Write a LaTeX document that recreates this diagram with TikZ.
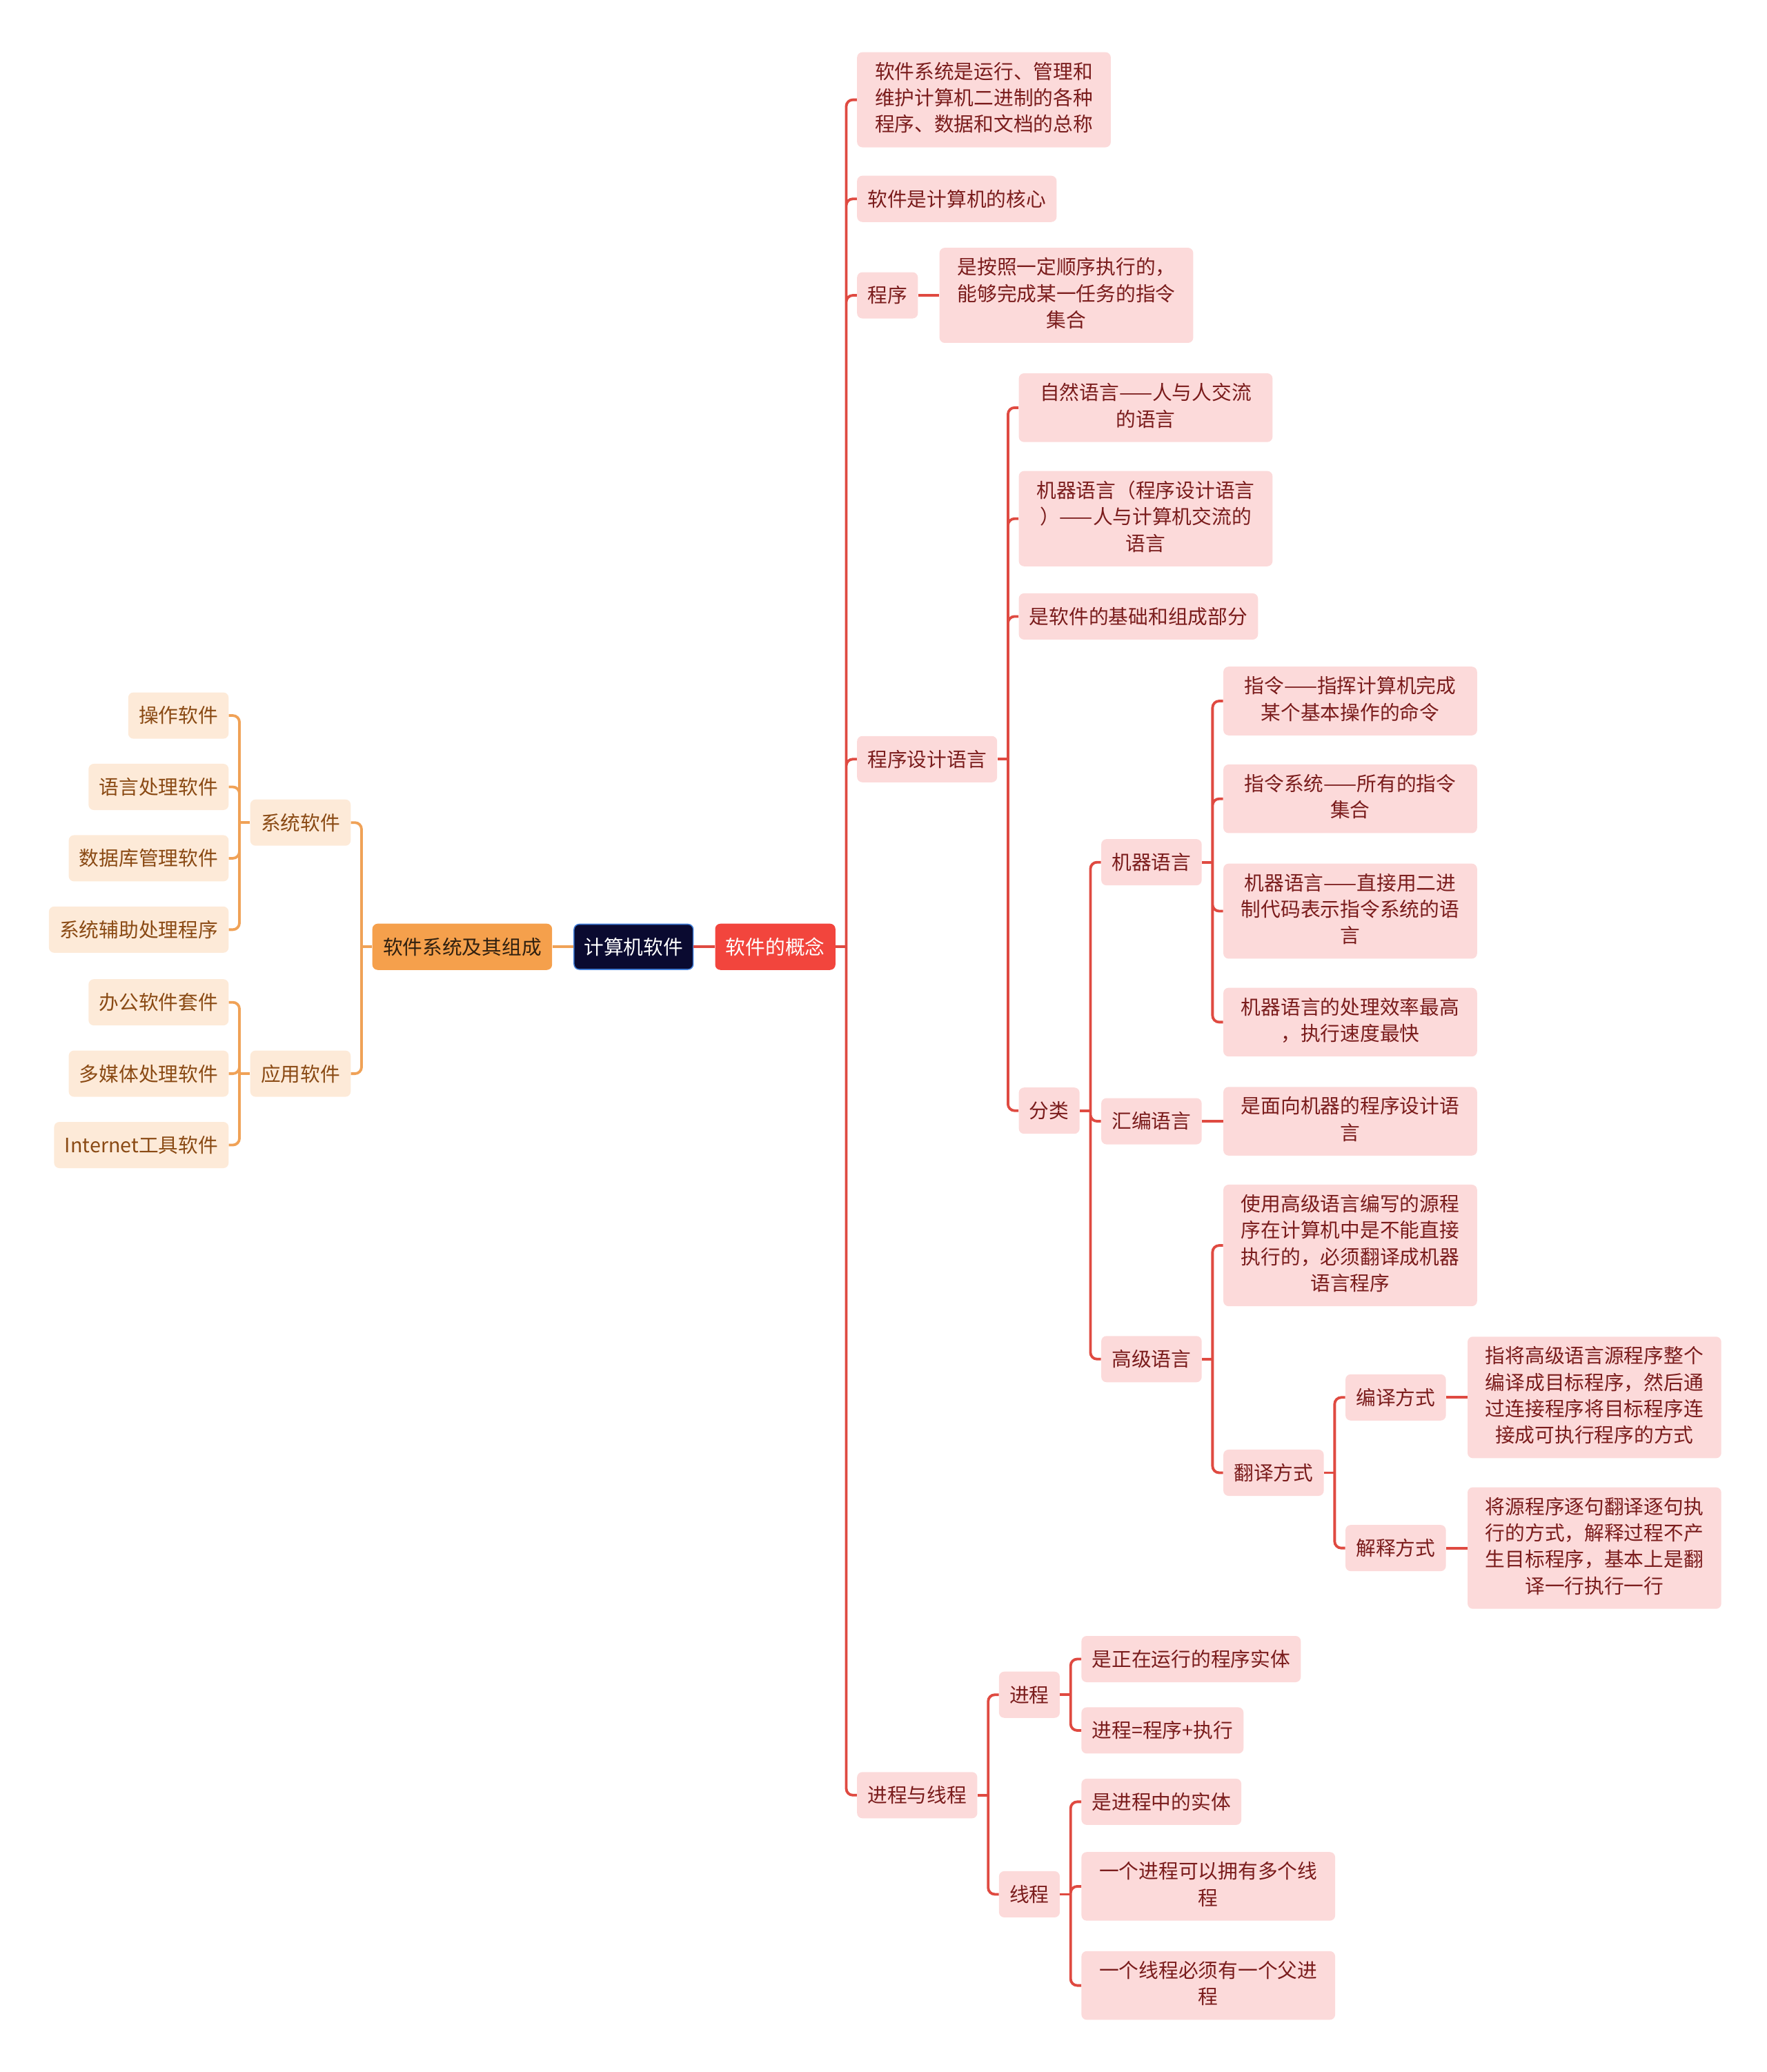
\documentclass[tikz,border=0pt]{standalone}
\usepackage{fontspec}
\setmainfont{Noto Sans CJK SC}
\usetikzlibrary{positioning}
\definecolor{navy}{HTML}{0A0A30}
\definecolor{rootblue}{HTML}{3E7BD6}
\definecolor{mainred}{HTML}{F2453D}
\definecolor{leafred}{HTML}{FCDADA}
\definecolor{textred}{HTML}{7A1C1C}
\definecolor{linered}{HTML}{DF4A41}
\definecolor{mainorange}{HTML}{F5A04C}
\definecolor{leaforange}{HTML}{FDEAD8}
\definecolor{textbrown}{HTML}{8A4A14}
\definecolor{lineorange}{HTML}{F0A257}
\newcommand\boxstrut{\rule[-4.3pt]{0pt}{20pt}}

\tikzset{
	box/.style={rectangle, rounded corners=4pt, inner xsep=8pt, inner ysep=7.5pt, align=center,
		font=\fontsize{15}{20}\selectfont, execute at begin node=\boxstrut, execute at end node=\boxstrut},
	rootbox/.style={box, fill=navy, draw=rootblue, line width=0.8pt, inner xsep=7.6pt, inner ysep=7.1pt, text=white},
	redmain/.style={box, fill=mainred, text=white},
	orangemain/.style={box, fill=mainorange, text=black!75!brown},
	redleaf/.style={box, fill=leafred, text=textred},
	orangeleaf/.style={box, fill=leaforange, text=textbrown},
	wide/.style={minimum width=192pt},
	redline/.style={draw=linered, line width=2pt, rounded corners=5pt},
	orangeline/.style={draw=lineorange, line width=2pt, rounded corners=5pt}
}

\begin{document}
\begin{tikzpicture}[x=1pt, y=-1pt, node distance=16pt]
			\useasboundingbox (0,0) rectangle (1337,1568);
			\node (root) [rootbox] at (479.5,716.5) {计算机软件};
			\node (gainian) [redmain, right=of root] {软件的概念};
			\node (zucheng) [orangemain, left=of root] {软件系统及其组成};
			
			% left side
			\node (xitong) [orangeleaf, left=of zucheng, yshift=94pt] {系统软件};
			\node (yingyong) [orangeleaf, left=of zucheng, yshift=-96pt] {应用软件};
			\node (caozuo) [orangeleaf, left=of xitong, yshift=81pt] {操作软件};
			\node (yuyanchuli) [orangeleaf, left=of xitong, yshift=27pt] {语言处理软件};
			\node (shujuku) [orangeleaf, left=of xitong, yshift=-27pt] {数据库管理软件};
			\node (fuzhu) [orangeleaf, left=of xitong, yshift=-81pt] {系统辅助处理程序};
			\node (bangong) [orangeleaf, left=of yingyong, yshift=54pt] {办公软件套件};
			\node (duomeiti) [orangeleaf, left=of yingyong] {多媒体处理软件};
			\node (internet) [orangeleaf, left=of yingyong, yshift=-54pt] {Internet工具软件};
			
			% right side
			\node (zongcheng) [redleaf, wide, right=of gainian, yshift=641pt] {软件系统是运行、管理和\\维护计算机二进制的各种\\程序、数据和文档的总称};
			\node (hexin) [redleaf, right=of gainian, yshift=566pt] {软件是计算机的核心};
			\node (chengxu) [redleaf, right=of gainian, yshift=493pt] {程序};
			\node (zhiling) [redleaf, wide, right=of chengxu] {是按照一定顺序执行的，\\能够完成某一任务的指令\\集合};
			\node (yuyan) [redleaf, right=of gainian, yshift=142pt] {程序设计语言};
			\node (jincheng) [redleaf, right=of gainian, yshift=-642pt] {进程与线程};
			
			\node (ziran) [redleaf, wide, right=of yuyan, yshift=266pt] {自然语言——人与人交流\\的语言};
			\node (jiqi) [redleaf, wide, right=of yuyan, yshift=182pt] {机器语言（程序设计语言\\）——人与计算机交流的\\语言};
			\node (jichu) [redleaf, right=of yuyan, yshift=108pt] {是软件的基础和组成部分};
			\node (fenlei) [redleaf, right=of yuyan, yshift=-266pt] {分类};
			
			\node (jqyy) [redleaf, right=of fenlei, yshift=188pt] {机器语言};
			\node (hbyy) [redleaf, right=of fenlei, yshift=-8pt] {汇编语言};
			\node (gjyy) [redleaf, right=of fenlei, yshift=-188pt] {高级语言};
			
			\node (ml1) [redleaf, wide, right=of jqyy, yshift=122pt] {指令——指挥计算机完成\\某个基本操作的命令};
			\node (ml2) [redleaf, wide, right=of jqyy, yshift=48pt] {指令系统——所有的指令\\集合};
			\node (ml3) [redleaf, wide, right=of jqyy, yshift=-37pt] {机器语言——直接用二进\\制代码表示指令系统的语\\言};
			\node (ml4) [redleaf, wide, right=of jqyy, yshift=-121pt] {机器语言的处理效率最高\\，执行速度最快};
			\node (hb1) [redleaf, wide, right=of hbyy] {是面向机器的程序设计语\\言};
			\node (gj1) [redleaf, wide, right=of gjyy, yshift=86pt] {使用高级语言编写的源程\\序在计算机中是不能直接\\执行的，必须翻译成机器\\语言程序};
			\node (fanyi) [redleaf, right=of gjyy, yshift=-86pt] {翻译方式};
			\node (bianyi) [redleaf, right=of fanyi, yshift=57pt] {编译方式};
			\node (jieshi) [redleaf, right=of fanyi, yshift=-57pt] {解释方式};
			\node (by1) [redleaf, wide, right=of bianyi] {指将高级语言源程序整个\\编译成目标程序，然后通\\过连接程序将目标程序连\\接成可执行程序的方式};
			\node (js1) [redleaf, wide, right=of jieshi] {将源程序逐句翻译逐句执\\行的方式，解释过程不产\\生目标程序，基本上是翻\\译一行执行一行};
			
			\node (jc) [redleaf, right=of jincheng, yshift=76pt] {进程};
			\node (xc) [redleaf, right=of jincheng, yshift=-75pt] {线程};
			\node (jc1) [redleaf, right=of jc, yshift=27pt] {是正在运行的程序实体};
			\node (jc2) [redleaf, right=of jc, yshift=-27pt] {进程=程序+执行};
			\node (xc1) [redleaf, right=of xc, yshift=70pt] {是进程中的实体};
			\node (xc2) [redleaf, wide, right=of xc, yshift=6pt] {一个进程可以拥有多个线\\程};
			\node (xc3) [redleaf, wide, right=of xc, yshift=-69pt] {一个线程必须有一个父进\\程};
			
			% connectors
			\draw [redline] (root) -- (gainian);
			\draw [orangeline] (root) -- (zucheng);
			
			\draw [orangeline] (zucheng.west) -- ++(-8,0) coordinate (tz);
			\draw [orangeline] (tz) |- (xitong.east) (tz) |- (yingyong.east);
			\draw [orangeline] (xitong.west) -- ++(-8,0) coordinate (tx);
			\draw [orangeline] (tx) |- (caozuo.east) (tx) |- (yuyanchuli.east) (tx) |- (shujuku.east) (tx) |- (fuzhu.east);
			\draw [orangeline] (yingyong.west) -- ++(-8,0) coordinate (ty);
			\draw [orangeline] (ty) |- (bangong.east) (ty) |- (duomeiti.east) (ty) |- (internet.east);
			
			\draw [redline] (gainian.east) -- ++(8,0) coordinate (tg);
			\draw [redline] (tg) |- (zongcheng.west) (tg) |- (hexin.west) (tg) |- (chengxu.west) (tg) |- (yuyan.west) (tg) |- (jincheng.west);
			\draw [redline] (chengxu) -- (zhiling);
			\draw [redline] (yuyan.east) -- ++(8,0) coordinate (tyy);
			\draw [redline] (tyy) |- (ziran.west) (tyy) |- (jiqi.west) (tyy) |- (jichu.west) (tyy) |- (fenlei.west);
			\draw [redline] (fenlei.east) -- ++(8,0) coordinate (tf);
			\draw [redline] (tf) |- (jqyy.west) (tf) |- (hbyy.west) (tf) |- (gjyy.west);
			\draw [redline] (jqyy.east) -- ++(8,0) coordinate (tj);
			\draw [redline] (tj) |- (ml1.west) (tj) |- (ml2.west) (tj) |- (ml3.west) (tj) |- (ml4.west);
			\draw [redline] (hbyy) -- (hb1);
			\draw [redline] (gjyy.east) -- ++(8,0) coordinate (tgj);
			\draw [redline] (tgj) |- (gj1.west) (tgj) |- (fanyi.west);
			\draw [redline] (fanyi.east) -- ++(8,0) coordinate (tfy);
			\draw [redline] (tfy) |- (bianyi.west) (tfy) |- (jieshi.west);
			\draw [redline] (bianyi) -- (by1);
			\draw [redline] (jieshi) -- (js1);
			\draw [redline] (jincheng.east) -- ++(8,0) coordinate (tjx);
			\draw [redline] (tjx) |- (jc.west) (tjx) |- (xc.west);
			\draw [redline] (jc.east) -- ++(8,0) coordinate (tjc);
			\draw [redline] (tjc) |- (jc1.west) (tjc) |- (jc2.west);
			\draw [redline] (xc.east) -- ++(8,0) coordinate (txc);
			\draw [redline] (txc) |- (xc1.west) (txc) |- (xc2.west) (txc) |- (xc3.west);
		\end{tikzpicture}
\end{document}
